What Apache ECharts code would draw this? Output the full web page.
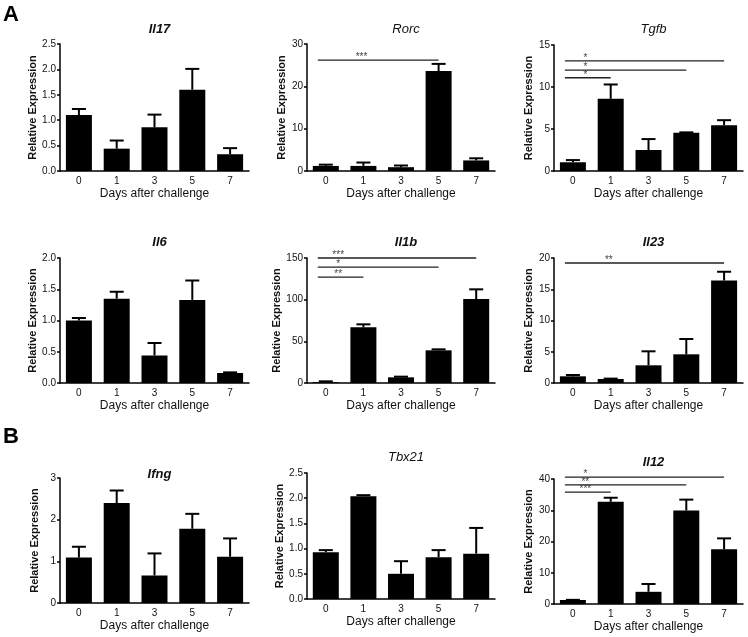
<!DOCTYPE html>
<html>
<head>
<meta charset="utf-8">
<script src="https://cdn.jsdelivr.net/npm/echarts@6/dist/echarts.min.js"></script>
<style>
  html, body { margin: 0; padding: 0; background: #fff; }
  #main { width: 748px; height: 637px; }
</style>
</head>
<body>
<div id="main"></div>
<script>
// days after challenge
var days = ['0', '1', '3', '5', '7']

// means and SEM
var il17Mean = [1.10, 0.44, 0.86, 1.60, 0.33]
var il17Err = [0.12, 0.16, 0.25, 0.41, 0.12]
var rorcMean = [1.2, 1.2, 0.9, 23.6, 2.5]
var rorcErr = [0.3, 0.8, 0.4, 1.7, 0.5]
var tgfbMean = [1.04, 8.6, 2.5, 4.55, 5.45]
var tgfbErr = [0.26, 1.7, 1.3, 0.05, 0.6]
var il6Mean = [1.00, 1.35, 0.44, 1.33, 0.16]
var il6Err = [0.04, 0.11, 0.20, 0.31, 0.01]
var il1bMean = [1.0, 66.8, 6.8, 39.2, 100.8]
var il1bErr = [1.0, 3.6, 0.8, 1.2, 11.6]
var il23Mean = [1.07, 0.64, 2.83, 4.59, 16.4]
var il23Err = [0.21, 0.06, 2.24, 2.45, 1.4]
var ifngMean = [1.09, 2.40, 0.66, 1.78, 1.11]
var ifngErr = [0.26, 0.30, 0.53, 0.36, 0.44]
var tbx21Mean = [0.93, 2.04, 0.50, 0.83, 0.90]
var tbx21Err = [0.04, 0.02, 0.25, 0.14, 0.51]
var il12Mean = [1.28, 32.7, 3.9, 29.9, 17.5]
var il12Err = [0.05, 1.3, 2.5, 3.5, 3.5]

// significance bars vs day 0: [to category index, y value, stars]
var rorcSig = [[3, 26.2, '***']]
var tgfbSig = [[4, 13.1, '*'], [3, 12.0, '*'], [1, 11.1, '*']]
var il1bSig = [[4, 150, '***'], [3, 139, '*'], [1, 127, '**']]
var il23Sig = [[4, 19.2, '**']]
var il12Sig = [[4, 40.6, '*'], [3, 38.1, '**'], [1, 35.8, '***']]

// y axis ticks: [max, interval, decimals]
var il17Ticks = [2.5, 0.5, 1]
var rorcTicks = [30, 10, 0]
var tgfbTicks = [15, 5, 0]
var il6Ticks = [2.0, 0.5, 1]
var il1bTicks = [150, 50, 0]
var il23Ticks = [20, 5, 0]
var ifngTicks = [3, 1, 0]
var tbx21Ticks = [2.5, 0.5, 1]
var il12Ticks = [40, 10, 0]

var FONT = '"Liberation Sans", Arial, sans-serif'

var panels = [
  { name: 'Il17', bold: true, mean: il17Mean, err: il17Err, ticks: il17Ticks, sig: [], left: 60, top: 44, w: 189, h: 127, ty: 18 },
  { name: 'Rorc', bold: false, mean: rorcMean, err: rorcErr, ticks: rorcTicks, sig: rorcSig, left: 307, top: 44, w: 188, h: 127, ty: 18 },
  { name: 'Tgfb', bold: false, mean: tgfbMean, err: tgfbErr, ticks: tgfbTicks, sig: tgfbSig, left: 554, top: 45, w: 189, h: 126, ty: 18 },
  { name: 'Il6', bold: true, mean: il6Mean, err: il6Err, ticks: il6Ticks, sig: [], left: 60, top: 258, w: 189, h: 125, ty: 231 },
  { name: 'Il1b', bold: true, mean: il1bMean, err: il1bErr, ticks: il1bTicks, sig: il1bSig, left: 307, top: 258, w: 188, h: 125, ty: 231 },
  { name: 'Il23', bold: true, mean: il23Mean, err: il23Err, ticks: il23Ticks, sig: il23Sig, left: 554, top: 258, w: 189, h: 125, ty: 231 },
  { name: 'Ifng', bold: true, mean: ifngMean, err: ifngErr, ticks: ifngTicks, sig: [], left: 60, top: 478, w: 189, h: 125, ty: 463 },
  { name: 'Tbx21', bold: false, mean: tbx21Mean, err: tbx21Err, ticks: tbx21Ticks, sig: [], left: 307, top: 473, w: 188, h: 126, ty: 446 },
  { name: 'Il12', bold: true, mean: il12Mean, err: il12Err, ticks: il12Ticks, sig: il12Sig, left: 554, top: 479, w: 189, h: 125, ty: 451 }
]

var chart = echarts.init(document.getElementById('main'), null, { renderer: 'canvas' })

var grid = []
var xAxis = []
var yAxis = []
var series = []
var title = []

panels.forEach(function (p, i) {
  grid.push({ left: p.left, top: p.top, width: p.w, height: p.h })
  title.push({
    text: p.name,
    left: p.left + p.w / 2,
    top: p.ty,
    textAlign: 'center',
    textStyle: { fontFamily: FONT, fontSize: 13, fontStyle: 'italic', fontWeight: p.bold ? 'bold' : 'normal', color: '#111' }
  })
  xAxis.push({
    type: 'category',
    gridIndex: i,
    data: days,
    name: 'Days after challenge',
    nameLocation: 'middle',
    nameGap: 17,
    nameTextStyle: { fontFamily: FONT, fontSize: 12, color: '#111' },
    axisLine: { lineStyle: { color: '#000', width: 1.5 } },
    axisTick: { show: false },
    axisLabel: { fontFamily: FONT, fontSize: 10, color: '#111', margin: 5 }
  })
  var dec = p.ticks[2]
  yAxis.push({
    type: 'value',
    gridIndex: i,
    min: 0,
    max: p.ticks[0],
    interval: p.ticks[1],
    name: 'Relative Expression',
    nameLocation: 'middle',
    nameGap: dec ? 22 : 20,
    nameTextStyle: { fontFamily: FONT, fontSize: 11, fontWeight: 'bold', color: '#111' },
    splitLine: { show: false },
    axisLine: { show: true, lineStyle: { color: '#000', width: 1.5 } },
    axisTick: { show: true, length: 3, lineStyle: { color: '#000', width: 1.5 } },
    axisLabel: {
      fontFamily: FONT, fontSize: 10, color: '#111', margin: 4,
      formatter: function (v) { return v.toFixed(dec) }
    }
  })
  series.push({
    type: 'bar',
    xAxisIndex: i,
    yAxisIndex: i,
    data: p.mean,
    barWidth: 26,
    itemStyle: { color: '#000' },
    silent: true
  })
  // error bars (upper only, Prism style)
  series.push({
    type: 'custom',
    xAxisIndex: i,
    yAxisIndex: i,
    clip: false,
    silent: true,
    z: 3,
    data: p.mean.map(function (m, k) { return [k, m, m + p.err[k]] }),
    renderItem: function (params, api) {
      var a = api.coord([api.value(0), api.value(1)])
      var b = api.coord([api.value(0), api.value(2)])
      var style = { stroke: '#000', lineWidth: 2 }
      return {
        type: 'group',
        children: [
          { type: 'line', shape: { x1: a[0], y1: a[1], x2: b[0], y2: b[1] }, style: style },
          { type: 'line', shape: { x1: b[0] - 7, y1: b[1], x2: b[0] + 7, y2: b[1] }, style: style }
        ]
      }
    }
  })
  if (p.sig.length) {
    var frac = p.sig.length > 1 ? 0.33 : 0.95
    series.push({
      type: 'custom',
      xAxisIndex: i,
      yAxisIndex: i,
      clip: false,
      silent: true,
      z: 4,
      data: p.sig.map(function (s) { return [s[0], s[1]] }),
      renderItem: function (params, api) {
        var s = p.sig[params.dataIndex]
        var c0 = api.coord([0, api.value(1)])
        var c1 = api.coord([1, api.value(1)])
        var end = api.coord([api.value(0), api.value(1)])
        var sx = c0[0] + (c1[0] - c0[0]) * frac
        return {
          type: 'group',
          children: [
            { type: 'line', shape: { x1: c0[0] - 8, y1: c0[1], x2: end[0], y2: end[1] }, style: { stroke: '#222', lineWidth: 1.3 } },
            { type: 'text', x: sx, y: c0[1] + 2, style: { text: s[2], fill: '#444', font: '10px ' + FONT, align: 'center', verticalAlign: 'bottom' } }
          ]
        }
      }
    })
  }
})

var option = {
  backgroundColor: '#fff',
  animation: false,
  title: title,
  grid: grid,
  xAxis: xAxis,
  yAxis: yAxis,
  series: series,
  graphic: [
    { type: 'text', left: 3, top: 4, style: { text: 'A', font: 'bold 22px ' + FONT, fill: '#000' } },
    { type: 'text', left: 3, top: 426, style: { text: 'B', font: 'bold 22px ' + FONT, fill: '#000' } }
  ]
}

chart.setOption(option)
</script>
</body>
</html>
